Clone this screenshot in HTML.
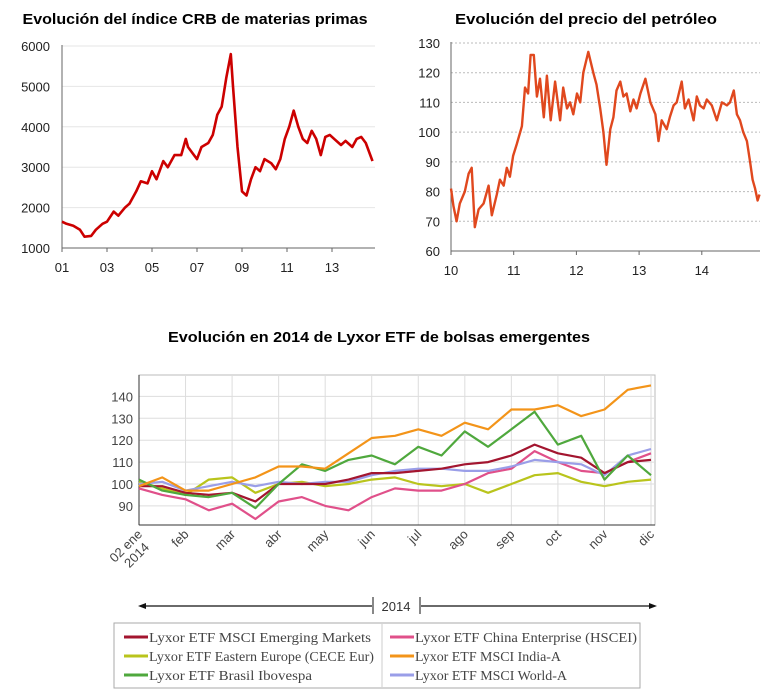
<!DOCTYPE html>
<html><head><meta charset="utf-8"><style>
body{margin:0;background:#fff;}
svg{display:block;font-family:"Liberation Sans",Arial,sans-serif;}
</style></head><body>
<svg id="s" width="782" height="700" viewBox="0 0 782 700">
<text x="195" y="24" text-anchor="middle" font-weight="bold" font-size="15" textLength="345" lengthAdjust="spacingAndGlyphs">Evolución del índice CRB de materias primas</text>
<text x="586" y="24" text-anchor="middle" font-weight="bold" font-size="15" textLength="262" lengthAdjust="spacingAndGlyphs">Evolución del precio del petróleo</text>
<text x="379" y="342" text-anchor="middle" font-weight="bold" font-size="15" textLength="422" lengthAdjust="spacingAndGlyphs">Evolución en 2014 de Lyxor ETF de bolsas emergentes</text>
<g id="c1"></g>
<g id="c2"></g>
<g id="c3"></g>
<g>
<line x1="143" y1="606" x2="372" y2="606" stroke="#111" stroke-width="1.2"/>
<line x1="421" y1="606" x2="652" y2="606" stroke="#111" stroke-width="1.2"/>
<polygon points="138,606 146,603 146,609" fill="#111"/>
<polygon points="657,606 649,603 649,609" fill="#111"/>
<line x1="373" y1="597" x2="373" y2="614" stroke="#111"/>
<line x1="420" y1="597" x2="420" y2="614" stroke="#111"/>
<text x="396" y="611" text-anchor="middle" font-size="13" fill="#333">2014</text>
</g>
<g font-family="Liberation Serif,serif" font-size="14" fill="#444">
<rect x="114" y="623" width="526" height="65" fill="#fff" stroke="#aaa"/>
<line x1="382" y1="624" x2="382" y2="687" stroke="#ccc"/>
<g><line x1="124" y1="637" x2="148" y2="637" stroke="#a3152f" stroke-width="3"/><text x="149" y="642" textLength="222" lengthAdjust="spacingAndGlyphs">Lyxor ETF MSCI Emerging Markets</text></g>
<g><line x1="124" y1="656" x2="148" y2="656" stroke="#b9c41c" stroke-width="3"/><text x="149" y="661" textLength="225" lengthAdjust="spacingAndGlyphs">Lyxor ETF Eastern Europe (CECE Eur)</text></g>
<g><line x1="124" y1="675" x2="148" y2="675" stroke="#4fa83d" stroke-width="3"/><text x="149" y="680" textLength="163" lengthAdjust="spacingAndGlyphs">Lyxor ETF Brasil Ibovespa</text></g>
<g><line x1="390" y1="637" x2="414" y2="637" stroke="#e0508a" stroke-width="3"/><text x="415" y="642" textLength="222" lengthAdjust="spacingAndGlyphs">Lyxor ETF China Enterprise (HSCEI)</text></g>
<g><line x1="390" y1="656" x2="414" y2="656" stroke="#f39419" stroke-width="3"/><text x="415" y="661" textLength="146" lengthAdjust="spacingAndGlyphs">Lyxor ETF MSCI India-A</text></g>
<g><line x1="390" y1="675" x2="414" y2="675" stroke="#9a9ee8" stroke-width="3"/><text x="415" y="680" textLength="152" lengthAdjust="spacingAndGlyphs">Lyxor ETF MSCI World-A</text></g>
</g>
</svg>
<script>
// CRB data
const crbYears=[2001,2001.2,2001.5,2001.8,2002,2002.3,2002.5,2002.8,2003,2003.3,2003.5,2003.8,2004,2004.3,2004.5,2004.8,2005,2005.2,2005.5,2005.7,2006,2006.3,2006.5,2006.6,2006.8,2007,2007.2,2007.5,2007.7,2007.9,2008.1,2008.3,2008.5,2008.6,2008.8,2009,2009.2,2009.4,2009.6,2009.8,2010,2010.3,2010.5,2010.7,2010.9,2011.1,2011.3,2011.5,2011.7,2011.9,2012.1,2012.3,2012.5,2012.7,2012.9,2013.1,2013.4,2013.6,2013.9,2014.1,2014.3,2014.5,2014.8];
const crbValues=[1650,1600,1550,1450,1280,1300,1450,1600,1650,1900,1800,2000,2100,2400,2650,2600,2900,2700,3150,3000,3300,3300,3700,3500,3350,3200,3500,3600,3800,4300,4500,5200,5800,5000,3500,2400,2300,2700,3000,2900,3200,3100,2950,3200,3700,4000,4400,4000,3700,3600,3900,3700,3300,3750,3800,3700,3550,3650,3500,3700,3750,3600,3150];
const crbTicks=[1000,2000,3000,4000,5000,6000];
const crbXLabels=["01","03","05","07","09","11","13"];
// Oil data
const oilYears=[0,.04,.09,.14,.22,.28,.33,.38,.44,.52,.6,.65,.73,.78,.84,.89,.94,.99,1.05,1.13,1.18,1.23,1.27,1.32,1.37,1.42,1.48,1.53,1.59,1.66,1.74,1.79,1.85,1.9,1.95,2.01,2.06,2.11,2.19,2.27,2.32,2.38,2.43,2.48,2.54,2.59,2.64,2.7,2.75,2.8,2.86,2.91,2.96,3.02,3.1,3.18,3.26,3.31,3.36,3.44,3.49,3.55,3.6,3.68,3.73,3.79,3.87,3.92,3.97,4.03,4.08,4.16,4.24,4.32,4.4,4.45,4.51,4.56,4.61,4.66,4.72,4.77,4.81,4.85,4.89,4.92];
const oilValues=[81,75,70,76,80,86,88,68,74,76,82,72,79,84,82,88,85,92,96,102,115,113,126,126,112,118,105,119,104,117,104,115,108,110,106,113,110,120,127,120,116,108,100,89,101,105,114,117,112,113,107,111,108,113,118,110,106,97,104,101,105,109,110,117,108,111,104,112,109,108,111,109,104,110,109,110,114,106,104,100,97,90,84,81,77,79];
const oilTicks=[60,70,80,90,100,110,120,130];
const oilXLabels=["10","11","12","13","14"];
// ETF data
const etfT=[0,.5,1,1.5,2,2.5,3,3.5,4,4.5,5,5.5,6,6.5,7,7.5,8,8.5,9,9.5,10,10.5,11];
const india=[99,103,97,97,100,103,108,108,107,114,121,122,125,122,128,125,134,134,136,131,134,143,145];
const brasil=[102,97,95,94,96,89,100,109,106,111,113,109,117,113,124,117,125,133,118,122,102,113,104];
const emerging=[99,99,96,95,96,92,100,100,100,102,105,105,106,107,109,110,113,118,114,112,105,110,111];
const china=[98,95,93,88,91,84,92,94,90,88,94,98,97,97,100,105,107,115,110,106,105,110,114];
const easternEurope=[101,98,95,102,103,96,100,101,99,100,102,103,100,99,100,96,100,104,105,101,99,101,102];
const world=[100,101,97,99,101,99,101,100,101,101,104,106,107,107,106,106,108,111,110,109,104,113,116];
const etfTicks=[90,100,110,120,130,140];
const monthLabels=["ene","feb","mar","abr","may","jun","jul","ago","sep","oct","nov","dic"];

const NS="http://www.w3.org/2000/svg";
function mk(parent,tag,attrs,text){const e=document.createElementNS(NS,tag);for(const k in attrs)e.setAttribute(k,attrs[k]);if(text!==undefined)e.textContent=text;parent.appendChild(e);return e;}
function pathD(xs,ys,fx,fy){return xs.map((v,i)=>(i?"L":"M")+fx(v).toFixed(1)+","+fy(ys[i]).toFixed(1)).join("");}

// Chart 1
(function(){
const g=document.getElementById('c1');
const x=y=>62+(y-2001)*22.5, y=v=>248-(v-1000)*202/5000;
crbTicks.forEach(t=>{
 const l=mk(g,'line',{x1:62,x2:375,y1:y(t),y2:y(t),stroke:'#e6e6e6'});
 
 
 const tx=mk(g,'text',{x:50,y:y(t)+5,'text-anchor':'end','font-size':13,fill:'#222'},t);
 
 
});
crbXLabels.forEach((s,i)=>{
 const tx=mk(g,'text',{x:x(2001+2*i),y:272,'text-anchor':'middle','font-size':13,fill:'#222'},s);
 
 
 mk(g,'line',{x1:x(2001+2*i),x2:x(2001+2*i),y1:248,y2:252,stroke:'#666'});
});
mk(g,'line',{x1:62,x2:62,y1:45,y2:249,stroke:'#666'});
mk(g,'line',{x1:62,x2:375,y1:248,y2:248,stroke:'#666'});
const p=mk(g,'path',{d:pathD(crbYears,crbValues,x,y),fill:'none',stroke:'#cc0000','stroke-width':2.6,'stroke-linejoin':'round'});


})();

// Chart 2
(function(){
const g=document.getElementById('c2');
const x=t=>451+t*62.7, y=v=>251-(v-60)*208/70;
oilTicks.forEach(t=>{
 if(t>60){const l=mk(g,'line',{x1:451,x2:760,y1:y(t),y2:y(t),stroke:'#bbb','stroke-dasharray':'2,2'});
 
 }
 const tx=mk(g,'text',{x:440,y:y(t)+5,'text-anchor':'end','font-size':13,fill:'#222'},t);
 
 
});
oilXLabels.forEach((s,i)=>{
 const tx=mk(g,'text',{x:x(i),y:275,'text-anchor':'middle','font-size':13,fill:'#222'},s);
 
 
 mk(g,'line',{x1:x(i),x2:x(i),y1:251,y2:255,stroke:'#666'});
});
mk(g,'line',{x1:451,x2:451,y1:42,y2:252,stroke:'#666'});
mk(g,'line',{x1:451,x2:760,y1:251,y2:251,stroke:'#666'});
const p=mk(g,'path',{d:pathD(oilYears,oilValues,t=>x(t),y),fill:'none',stroke:'#e0481e','stroke-width':2.4,'stroke-linejoin':'round'});


})();

// Chart 3
(function(){
const g=document.getElementById('c3');
const L=139,R=655,T=375,B=525;
const x=m=>L+m*(651-L)/11, y=v=>484-(v-100)*2.19;
mk(g,'rect',{x:L,y:T,width:R-L,height:B-T,fill:'#fff',stroke:'#bbb'});
monthLabels.forEach((s,i)=>{
 mk(g,'line',{x1:x(i),x2:x(i),y1:T,y2:B,stroke:'#ddd'});
 const tx=mk(g,'text',{transform:`translate(${x(i)+4},${B+10}) rotate(-45)`,'text-anchor':'end','font-size':13,fill:'#444'},i===0?'02 ene':s);
 
 
});
const t2=mk(g,'text',{transform:`translate(${x(0)+11},${B+23}) rotate(-45)`,'text-anchor':'end','font-size':13,fill:'#444'},'2014');


etfTicks.forEach(t=>{
 mk(g,'line',{x1:L,x2:R,y1:y(t),y2:y(t),stroke:'#ddd'});
 const tx=mk(g,'text',{x:L-6,y:y(t)+5,'text-anchor':'end','font-size':13,fill:'#444'},t);
 
 
});
mk(g,'line',{x1:L,x2:L,y1:T,y2:B,stroke:'#333'});
mk(g,'line',{x1:L,x2:R,y1:B,y2:B,stroke:'#333'});
const series=[[easternEurope,'#b9c41c','etf-line-eastern-europe'],[china,'#e0508a','etf-line-china'],[world,'#9a9ee8','etf-line-world'],[emerging,'#a3152f','etf-line-emerging'],[brasil,'#4fa83d','etf-line-brasil'],[india,'#f39419','etf-line-india']];
series.forEach(([vals,c,n])=>{
 const p=mk(g,'path',{d:pathD(etfT,vals,x,y),fill:'none',stroke:c,'stroke-width':2.2,'stroke-linejoin':'round'});
 
 
});
})();
</script>
</body></html>
